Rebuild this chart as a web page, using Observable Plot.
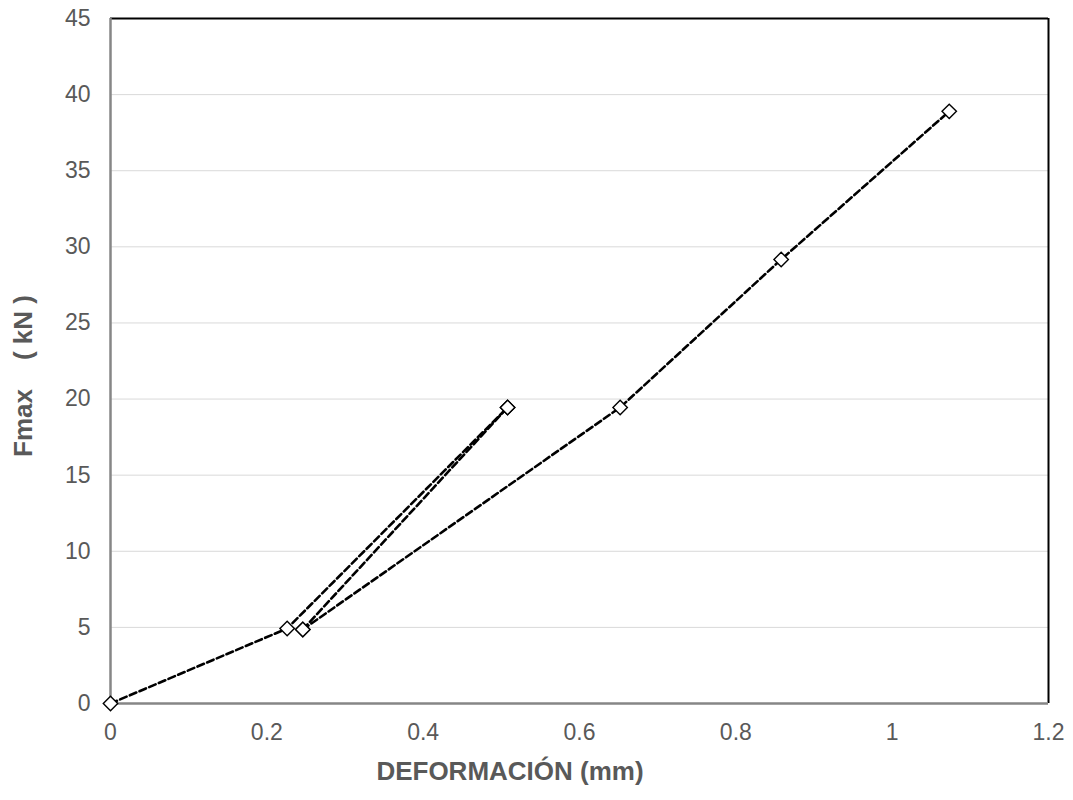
<!DOCTYPE html>
<html>
<head>
<meta charset="utf-8">
<script src="https://cdn.jsdelivr.net/npm/d3@7"></script>
<script src="https://cdn.jsdelivr.net/npm/@observablehq/plot@0.6"></script>
<style>
  html, body { margin: 0; padding: 0; background: #fff; }
  #chart svg { font-family: "Liberation Sans", Arial, sans-serif; }
</style>
</head>
<body>
<div id="chart"></div>
<script>
// Series
const serieA_x = [0, 0.226, 0.508];
const serieA_y = [0, 4.93, 19.45];
const serieB_x = [0.246, 0.508];
const serieB_y = [4.86, 19.45];
const serieC_x = [0.246, 0.652, 0.858, 1.073];
const serieC_y = [4.86, 19.45, 29.17, 38.9];

const xTicks = [0, 0.2, 0.4, 0.6, 0.8, 1, 1.2];
const yTicks = [0, 5, 10, 15, 20, 25, 30, 35, 40, 45];
const xTitle = "DEFORMACIÓN (mm)";
const yTitle = "Fmax    ( kN )";

const build = (name, xs, ys) => xs.map((x, i) => ({serie: name, x, y: ys[i]}));
const data = [
  ...build("A", serieA_x, serieA_y),
  ...build("B", serieB_x, serieB_y),
  ...build("C", serieC_x, serieC_y)
];

const W = 1073, H = 800;
const mL = 110, mR = 25, mT = 18, mB = 97;
const tickColor = "#595959";

const plot = Plot.plot({
  width: W,
  height: H,
  marginLeft: mL,
  marginRight: mR,
  marginTop: mT,
  marginBottom: mB,
  x: {domain: [0, 1.2]},
  y: {domain: [0, 45]},
  style: {fontFamily: "Liberation Sans, Arial, sans-serif", background: "#fff"},
  marks: [
    Plot.ruleY(yTicks.filter(d => d > 0 && d < 45), {stroke: "#d9d9d9", strokeWidth: 1}),
    Plot.ruleY([45], {stroke: "#000", strokeWidth: 2}),
    Plot.ruleX([1.2], {stroke: "#000", strokeWidth: 2}),
    Plot.ruleX([0], {stroke: "#868686", strokeWidth: 2.5}),
    Plot.ruleY([0], {stroke: "#868686", strokeWidth: 2.5}),
    Plot.axisX({ticks: xTicks, tickFormat: d3.format("~g"), tickSize: 0, tickPadding: 20, fontSize: 23, color: tickColor, label: null}),
    Plot.axisY({ticks: yTicks, tickFormat: d3.format("~g"), tickSize: 0, tickPadding: 20, fontSize: 23, color: tickColor, label: null}),
    Plot.line(data, {x: "x", y: "y", z: "serie", stroke: "#000", strokeWidth: 2.6, strokeDasharray: "7,3.5"}),
    Plot.dot(data, {x: "x", y: "y", symbol: "diamond2", r: 6.5, stroke: "#000", strokeWidth: 1.4, fill: "#fff"})
  ]
});

const svg = d3.select(plot);
svg.append("text")
  .attr("x", 510).attr("y", 780)
  .attr("text-anchor", "middle")
  .attr("font-size", 26).attr("font-weight", "bold")
  .attr("fill", tickColor)
  .text(xTitle);
svg.append("text")
  .attr("transform", "translate(32,376) rotate(-90)")
  .attr("text-anchor", "middle")
  .attr("font-size", 26).attr("font-weight", "bold")
  .attr("fill", tickColor)
  .style("white-space", "pre")
  .attr("xml:space", "preserve")
  .text(yTitle);

document.getElementById("chart").appendChild(plot);
</script>
</body>
</html>
